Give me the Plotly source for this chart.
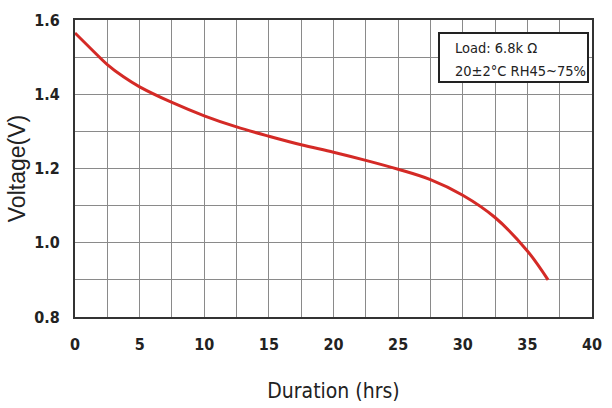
import plotly.graph_objects as go

hours = [0, 1.25, 2.5, 3.75, 5, 7.5, 10, 12.5, 15, 17.5, 20, 22.5, 25, 27.5, 30, 32.5, 35, 36.6]
voltage = [1.565, 1.522, 1.480, 1.447, 1.420, 1.378, 1.342, 1.312, 1.287, 1.264, 1.244, 1.222,
           1.198, 1.170, 1.128, 1.068, 0.978, 0.90]
x_ticks = [0, 5, 10, 15, 20, 25, 30, 35, 40]
y_ticks = [0.8, 1.0, 1.2, 1.4, 1.6]
note_lines = ["Load: 6.8k Ω", "20±2°C RH45~75%"]

NARROW = "DejaVu Sans Condensed, Liberation Sans Narrow, sans-serif"

fig = go.Figure()
fig.add_trace(go.Scatter(x=hours, y=voltage, mode="lines",
                         line=dict(color="#d42a26", width=3, shape="spline", smoothing=1.0),
                         showlegend=False))

tickfont = dict(family=NARROW, size=16, color="#222", weight="bold")
fig.update_layout(
    width=612, height=408,
    margin=dict(l=75, r=20, t=20, b=91),
    paper_bgcolor="white", plot_bgcolor="white",
    xaxis=dict(range=[0, 40], tickvals=x_ticks, ticktext=[str(v) for v in x_ticks],
               showgrid=True, gridcolor="#8a8a8a", gridwidth=1, automargin=False,
               minor=dict(dtick=2.5, showgrid=True, gridcolor="#8a8a8a", gridwidth=1),
               showline=True, linecolor="#333", linewidth=2, mirror=True,
               ticks="", ticklabelstandoff=12, tickfont=tickfont, zeroline=False,
               title=dict(text="Duration (hrs)", standoff=30,
                          font=dict(family=NARROW, size=21, color="#222"))),
    yaxis=dict(range=[0.8, 1.6], tickvals=y_ticks, ticktext=[f"{v:.1f}" for v in y_ticks],
               showgrid=True, gridcolor="#8a8a8a", gridwidth=1, automargin=False,
               minor=dict(dtick=0.1, showgrid=True, gridcolor="#8a8a8a", gridwidth=1),
               showline=True, linecolor="#333", linewidth=2, mirror=True,
               ticks="", ticklabelstandoff=10, tickfont=tickfont, zeroline=False,
               title=dict(text="Voltage(V)", standoff=2,
                          font=dict(family="Liberation Sans, Arial, sans-serif", size=23, color="#222"))),
)

fig.add_shape(type="rect", xref="paper", yref="paper",
              x0=(439 - 75) / 517, x1=(588 - 75) / 517,
              y0=(317 - 82) / 297, y1=(317 - 33) / 297,
              line=dict(color="#222", width=2), fillcolor="white", layer="above")
fig.add_annotation(xref="paper", yref="paper", x=(453 - 75) / 517, y=(317 - 48) / 297,
                   text=note_lines[0], showarrow=False, xanchor="left", yanchor="middle",
                   font=dict(family=NARROW, size=14.5, color="#222"))
fig.add_annotation(xref="paper", yref="paper", x=(453 - 75) / 517, y=(317 - 71) / 297,
                   text=note_lines[1], showarrow=False, xanchor="left", yanchor="middle",
                   font=dict(family=NARROW, size=14.5, color="#222"))

fig.write_html("out.html", config={"displayModeBar": False},
               post_script="document.body.style.margin='0';document.body.style.overflow='hidden';")
